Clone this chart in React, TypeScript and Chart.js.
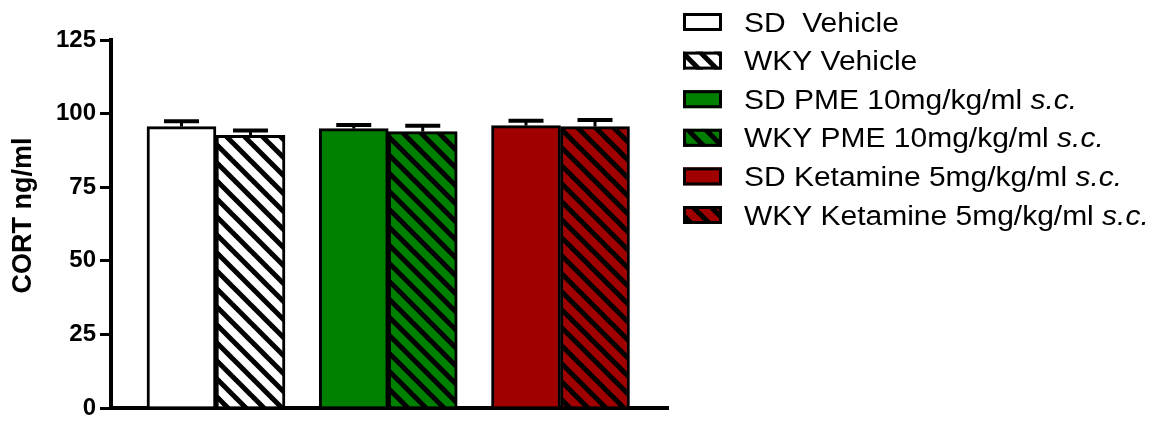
import React, { useEffect, useRef } from 'react';
import { Chart, registerables } from 'chart.js';

Chart.register(...registerables);

// Treatment groups, one bar per series
const seriesLabels = [
  'SD  Vehicle',
  'WKY Vehicle',
  'SD PME 10mg/kg/ml s.c.',
  'WKY PME 10mg/kg/ml s.c.',
  'SD Ketamine 5mg/kg/ml s.c.',
  'WKY Ketamine 5mg/kg/ml s.c.',
];
const italicSuffix = 's.c.';
// which treatment cluster (0 = Vehicle, 1 = PME, 2 = Ketamine) each series sits in
const groupSlots = [0, 0, 1, 1, 2, 2];
const clusterPositions = [0, 1, 2];
// mean plasma corticosterone (ng/ml) and SEM
const cortMeans = [95.6, 92.6, 94.9, 93.9, 95.9, 95.6];
const cortSem = [1.8, 1.7, 1.2, 2.0, 1.7, 2.2];
const fillColors = ['#ffffff', '#ffffff', '#008000', '#008000', '#a00000', '#a00000'];
const hatchedSeries = [false, true, false, true, false, true];
const yTickValues = [0, 25, 50, 75, 100, 125];
const yTitle = 'CORT ng/ml';

const FONT = '"Liberation Sans", Arial, sans-serif';

function makeHatch(bg: string): CanvasPattern | string {
  const s = 18;
  const c = document.createElement('canvas');
  c.width = s;
  c.height = s;
  const g = c.getContext('2d');
  if (!g) return bg;
  g.fillStyle = bg;
  g.fillRect(0, 0, s, s);
  g.strokeStyle = '#000';
  g.lineWidth = 5;
  for (const k of [-1, 0, 1]) {
    g.beginPath();
    g.moveTo(k * s - 3, -3);
    g.lineTo(k * s + s + 3, s + 3);
    g.stroke();
  }
  return g.createPattern(c, 'repeat') || bg;
}

// SEM whiskers (upper only) with a flat cap
const errorBarPlugin = {
  id: 'semBars',
  afterDatasetsDraw(chart: any) {
    const ctx = chart.ctx;
    const yScale = chart.scales.y;
    ctx.save();
    ctx.strokeStyle = '#000';
    chart.data.datasets.forEach((ds: any, i: number) => {
      const meta = chart.getDatasetMeta(i);
      const slot = groupSlots[i];
      const el = meta.data[slot];
      if (!el) return;
      const yTop = yScale.getPixelForValue(ds.sem[slot]);
      ctx.lineWidth = 3;
      ctx.beginPath();
      ctx.moveTo(el.x, el.y);
      ctx.lineTo(el.x, yTop);
      ctx.stroke();
      ctx.lineWidth = 4;
      ctx.beginPath();
      ctx.moveTo(el.x - 17.5, yTop);
      ctx.lineTo(el.x + 17.5, yTop);
      ctx.stroke();
    });
    ctx.restore();
  },
};

// Rotated y-axis title
const yTitlePlugin = {
  id: 'yTitle',
  afterDraw(chart: any) {
    const ctx = chart.ctx;
    ctx.save();
    ctx.translate(24, 215.5);
    ctx.rotate(-Math.PI / 2);
    ctx.font = `bold 27px ${FONT}`;
    ctx.fillStyle = '#000';
    ctx.textAlign = 'center';
    ctx.textBaseline = 'middle';
    ctx.fillText(yTitle, 0, 0);
    ctx.restore();
  },
};

// Legend column to the right of the plot
const sideLegendPlugin = {
  id: 'sideLegend',
  afterDraw(chart: any) {
    const ctx = chart.ctx;
    ctx.save();
    chart.data.datasets.forEach((ds: any, i: number) => {
      const cy = 22 + i * 38.6;
      ctx.fillStyle = ds.backgroundColor;
      ctx.fillRect(683, cy - 9, 39, 18);
      ctx.lineWidth = 3;
      ctx.strokeStyle = '#000';
      ctx.strokeRect(684.5, cy - 7.5, 36, 15);

      const label: string = ds.label;
      let main = label;
      let suffix = '';
      if (label.endsWith(' ' + italicSuffix)) {
        main = label.slice(0, label.length - italicSuffix.length);
        suffix = italicSuffix;
      }
      ctx.save();
      ctx.translate(744, cy + 9.6);
      ctx.scale(1.11, 1);
      ctx.fillStyle = '#000';
      ctx.textAlign = 'left';
      ctx.textBaseline = 'alphabetic';
      ctx.font = `27px ${FONT}`;
      ctx.fillText(main, 0, 0);
      const w = ctx.measureText(main).width;
      if (suffix) {
        ctx.font = `italic 27px ${FONT}`;
        ctx.fillText(suffix, w, 0);
      }
      ctx.restore();
    });
    ctx.restore();
  },
};

export default function App() {
  const canvasRef = useRef<HTMLCanvasElement | null>(null);

  useEffect(() => {
    document.body.style.margin = '0';
    const canvas = canvasRef.current;
    if (!canvas) return;

    const datasets = seriesLabels.map((label, i) => ({
      label,
      data: clusterPositions.map((x) => ({ x, y: x === groupSlots[i] ? cortMeans[i] : null })),
      sem: clusterPositions.map((x) => (x === groupSlots[i] ? cortMeans[i] + cortSem[i] : null)),
      backgroundColor: hatchedSeries[i] ? makeHatch(fillColors[i]) : fillColors[i],
      borderColor: '#000',
      borderWidth: 3,
      borderSkipped: 'start',
      barThickness: 69,
      skipNull: true,
    }));

    const chart = new Chart(canvas, {
      type: 'bar',
      data: { datasets: datasets as any },
      options: {
        animation: false,
        responsive: false,
        events: [],
        layout: { padding: { left: 0, top: 40, right: 506, bottom: 14 } },
        plugins: {
          legend: { display: false },
          tooltip: { enabled: false },
          title: { display: false },
        },
        scales: {
          x: {
            type: 'linear',
            min: -0.6094,
            max: 2.624,
            offset: false,
            z: 1,
            grid: { display: false, drawTicks: false, tickLength: 0 },
            ticks: { display: false },
            border: { display: true, color: '#000', width: 4 },
            afterBuildTicks: (scale: any) => {
              scale.ticks = clusterPositions.map((v) => ({ value: v }));
            },
          },
          y: {
            min: yTickValues[0],
            max: yTickValues[yTickValues.length - 1],
            z: 1,
            afterBuildTicks: (scale: any) => {
              scale.ticks = yTickValues.map((v) => ({ value: v }));
            },
            afterFit: (scale: any) => {
              scale.width = 111;
            },
            grid: {
              display: true,
              drawOnChartArea: false,
              drawTicks: true,
              tickLength: 11,
              color: '#000',
              lineWidth: 3,
            },
            border: { display: true, color: '#000', width: 4 },
            ticks: {
              color: '#000',
              padding: 4,
              font: { family: FONT, size: 24, weight: 'bold', lineHeight: 0.5 },
            },
          },
        },
      },
      plugins: [errorBarPlugin, yTitlePlugin, sideLegendPlugin],
    } as any);

    return () => chart.destroy();
  }, []);

  return (
    <div style={{ width: 1174, height: 422 }}>
      <canvas ref={canvasRef} width={1174} height={422} style={{ display: 'block' }} />
    </div>
  );
}
